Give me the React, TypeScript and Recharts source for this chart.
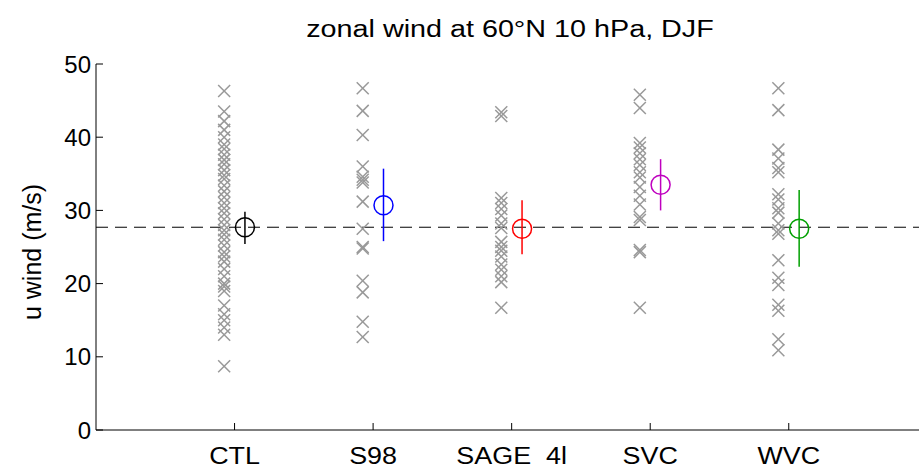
import React from 'react';
import { ComposedChart, Scatter, XAxis, YAxis, ReferenceLine, ErrorBar, Customized } from 'recharts';

const CATEGORIES = ['CTL', 'S98', 'SAGE  4l', 'SVC', 'WVC'];
const CATEGORY_POS = [1, 2, 3, 4, 5];
const Y_TICKS = [0, 10, 20, 30, 40, 50];

const CTL_VALUES = [46.3, 43.5, 42.2, 41, 40, 39, 38.4, 37.6, 36.9, 36.3, 35.5, 34.8, 34.3, 33.4, 32.6, 31.8, 31, 30.3, 29.6, 28.8, 28, 27.3, 26.7, 26, 25.2, 24.3, 23.7, 23, 22, 21, 20, 19.6, 19, 17, 15.8, 15, 14, 13, 8.7];
const S98_VALUES = [46.7, 43.6, 40.3, 36, 34.6, 34.2, 33.8, 31.2, 27.5, 25.0, 24.8, 20.4, 18.8, 14.8, 12.7];
const SAGE_VALUES = [43.4, 42.9, 31.7, 31, 30.2, 29.3, 28.2, 27.6, 25.7, 25, 24.5, 23.7, 22.6, 21.9, 21, 20.2, 16.7];
const SVC_VALUES = [45.8, 44, 39.2, 38.6, 37.8, 37, 36.2, 35.2, 34.5, 33.2, 32, 30.8, 29.1, 28.7, 24.6, 24.3, 16.7];
const WVC_VALUES = [46.7, 43.7, 38.3, 37.1, 35.8, 35.2, 32.2, 31.5, 30.3, 29.7, 28.2, 27.3, 26.8, 23.2, 20.8, 19.8, 17.1, 16.3, 12.4, 10.9];

const MEANS = [27.7, 30.7, 27.5, 33.5, 27.5];
const ERR_LOW = [25.4, 25.8, 24.0, 30.0, 22.3];
const ERR_HIGH = [29.8, 35.7, 31.4, 37.0, 32.8];
const COLORS = ['#000000', '#0000ff', '#ff0000', '#bf00bf', '#00a000'];
const REFERENCE_MEAN = 27.7;

const ALL_VALUES = [CTL_VALUES, S98_VALUES, SAGE_VALUES, SVC_VALUES, WVC_VALUES];
const CROSS_OFFSET = -0.075;
const MEAN_OFFSET = 0.075;

const FONT = '"Liberation Sans", Arial, Helvetica, sans-serif';

const crossData = ALL_VALUES.map((vals, i) => vals.map((v) => ({ x: CATEGORY_POS[i] + CROSS_OFFSET, y: v })));
const meanData = MEANS.map((m, i) => [
  { x: CATEGORY_POS[i] + MEAN_OFFSET, y: m, err: [m - ERR_LOW[i], ERR_HIGH[i] - m] },
]);

const CrossShape = (props: any) => {
  const { cx, cy } = props;
  const s = 6;
  return (
    <g>
      <line x1={cx - s} y1={cy - s} x2={cx + s} y2={cy + s} stroke="#999999" strokeWidth={1.5} />
      <line x1={cx - s} y1={cy + s} x2={cx + s} y2={cy - s} stroke="#999999" strokeWidth={1.5} />
    </g>
  );
};

const makeCircle = (color: string) => (props: any) => {
  const { cx, cy } = props;
  return <circle cx={cx} cy={cy} r={9.5} fill="none" stroke={color} strokeWidth={1.5} />;
};

const BottomTick = (props: any) => {
  const { x, y, payload } = props;
  const idx = CATEGORY_POS.indexOf(payload.value);
  return (
    <g>
      <line x1={x} y1={y} x2={x} y2={y - 7} stroke="#000" strokeWidth={1} />
      <text
        x={0}
        y={0}
        transform={`translate(${x} ${y + 34}) scale(1.17 1)`}
        textAnchor="middle"
        fontSize={23}
        fontFamily={FONT}
        fill="#000"
        style={{ whiteSpace: 'pre' }}
      >
        {idx >= 0 ? CATEGORIES[idx] : ''}
      </text>
    </g>
  );
};

const TopTick = (props: any) => {
  const { x, y } = props;
  return <line x1={x} y1={y} x2={x} y2={y + 7} stroke="#000" strokeWidth={1} />;
};

const LeftTick = (props: any) => {
  const { x, y, payload } = props;
  return (
    <g>
      <line x1={x} y1={y} x2={x + 7} y2={y} stroke="#000" strokeWidth={1} />
      <text x={x - 5} y={y + 8.5} textAnchor="end" fontSize={24} fontFamily={FONT} fill="#000">
        {payload.value}
      </text>
    </g>
  );
};

const Labels = () => (
  <g>
    <text
      x={0}
      y={0}
      transform="translate(510 37) scale(1.25 1)"
      textAnchor="middle"
      fontSize={23}
      fontFamily={FONT}
      fill="#000"
    >
      zonal wind at 60°N 10 hPa, DJF
    </text>
    <text x={41} y={252} transform="rotate(-90 41 252)" textAnchor="middle" fontSize={25} fontFamily={FONT} fill="#000">
      u wind (m/s)
    </text>
  </g>
);

export default function App() {
  return (
    <div style={{ position: 'absolute', left: 0, top: 0, width: 919, height: 470, background: '#fff' }}>
      <ComposedChart width={919} height={470} margin={{ top: 64, right: 0, bottom: 0, left: 0 }}>
        <XAxis
          type="number"
          dataKey="x"
          domain={[0, 5.94]}
          ticks={CATEGORY_POS}
          height={40}
          tickSize={0}
          tickMargin={0}
          tickLine={false}
          tick={<BottomTick />}
          axisLine={{ stroke: '#000', strokeWidth: 1 }}
          allowDataOverflow
          interval={0}
        />
        <XAxis
          xAxisId="top"
          orientation="top"
          type="number"
          dataKey="x"
          domain={[0, 5.94]}
          ticks={CATEGORY_POS}
          height={0}
          tickSize={0}
          tickMargin={0}
          tickLine={false}
          tick={<TopTick />}
          axisLine={{ stroke: '#000', strokeWidth: 1 }}
          allowDataOverflow
          interval={0}
        />
        <YAxis
          type="number"
          dataKey="y"
          domain={[0, 50]}
          ticks={Y_TICKS}
          width={96}
          tickSize={0}
          tickMargin={0}
          tickLine={false}
          tick={<LeftTick />}
          axisLine={{ stroke: '#000', strokeWidth: 1 }}
          allowDataOverflow
          interval={0}
        />
        <ReferenceLine y={REFERENCE_MEAN} stroke="#000" strokeWidth={1} strokeDasharray="12 7" />
        {crossData.map((d, i) => (
          <Scatter key={'c' + i} data={d} dataKey="y" shape={<CrossShape />} isAnimationActive={false} />
        ))}
        {meanData.map((d, i) => (
          <Scatter key={'m' + i} data={d} dataKey="y" shape={makeCircle(COLORS[i])} isAnimationActive={false}>
            <ErrorBar dataKey="err" direction="y" width={0} stroke={COLORS[i]} strokeWidth={1.5} />
          </Scatter>
        ))}
        <Customized component={Labels} />
      </ComposedChart>
    </div>
  );
}
